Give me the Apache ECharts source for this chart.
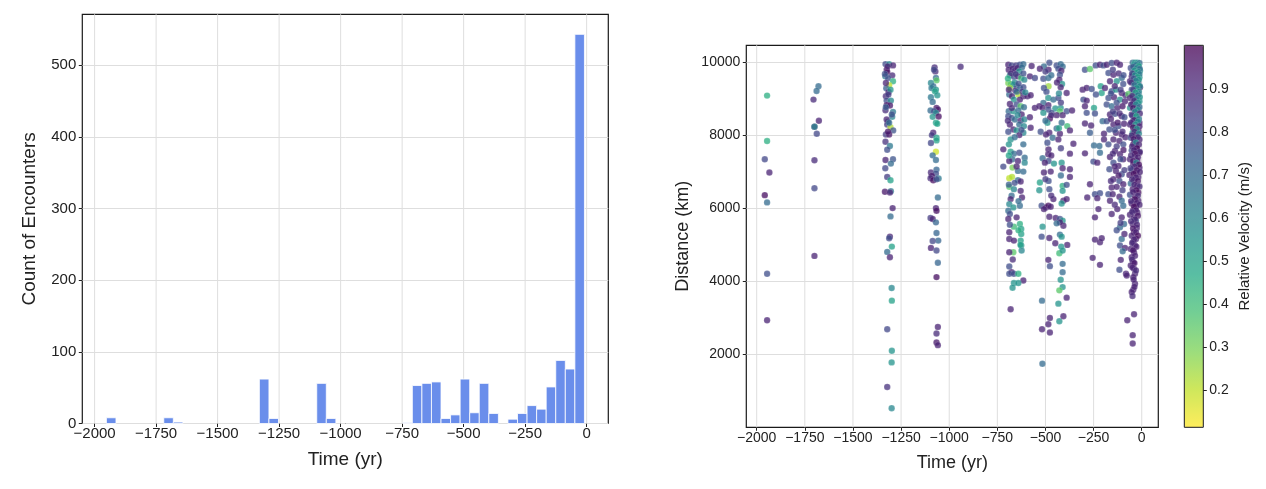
<!DOCTYPE html>
<html>
<head>
<meta charset="utf-8">
<script src="https://cdn.jsdelivr.net/npm/echarts@6/dist/echarts.min.js"></script>
<style>
html,body{margin:0;padding:0;background:#ffffff;}
#chart{width:1266px;height:489px;}
</style>
</head>
<body>
<div id="chart"></div>
<script>
// ---------- Histogram data (counts per time bin) ----------
const histStart = -1952;
const histBinWidth = 38.86;
const histCounts = [8,0,0,0,0,0,8,2,0,0,0,0,0,0,0,0,62,7,0,0,0,0,56,7,0,0,0,0,0,0,0,1,53,56,58,7,12,62,15,56,14,0,6,14,25,20,51,88,76,543];

// ---------- Tick labels ----------
const timeTicks = [-2000,-1750,-1500,-1250,-1000,-750,-500,-250,0];
const countTicks = [0,100,200,300,400,500];
const distTicks = [2000,4000,6000,8000,10000];
const velTicks = [0.2,0.3,0.4,0.5,0.6,0.7,0.8,0.9];

// ---------- Scatter data: [time (yr), distance (km), relative velocity (m/s)] ----------
const enc1950 = [[-1946,9092,0.45],[-1946,7845,0.45],[-1958,7345,0.82],[-1934,6982,0.92],[-1958,6363,0.97],[-1946,6164,0.7],[-1946,4207,0.8],[-1946,2933,0.92]];
const enc1700 = [[-1679,9346,0.7],[-1689,9219,0.7],[-1705,8982,0.9],[-1677,8400,0.92],[-1700,8237,0.95],[-1700,8237,0.6],[-1688,8046,0.82],[-1700,7318,0.9],[-1700,6554,0.82],[-1700,4698,0.92]];
const enc1300 = [[-1331,9955,0.8],[-1312,9955,0.6],[-1292,9919,0.92],[-1325,9801,0.95],[-1322,9737,0.97],[-1332,9619,0.65],[-1296,9646,0.9],[-1318,9574,0.8],[-1292,9483,0.45],[-1312,9373,0.2],[-1327,9292,0.75],[-1315,9192,0.92],[-1329,9073,0.9],[-1325,8955,0.8],[-1303,8955,0.6],[-1325,8828,0.95],[-1308,8819,0.95],[-1331,8691,0.9],[-1292,8646,0.65],[-1296,8509,0.6],[-1318,8373,0.75],[-1322,8300,0.85],[-1305,8228,0.22],[-1291,8137,0.78],[-1329,8027,0.85],[-1312,8027,0.95],[-1331,7827,0.88],[-1308,7709,0.65],[-1322,7609,0.8],[-1292,7345,0.78],[-1331,7327,0.92],[-1303,7227,0.7],[-1332,7100,0.82],[-1322,6863,0.85],[-1305,6772,0.5],[-1334,6454,0.95],[-1303,6472,0.65],[-1308,6436,0.92],[-1294,6008,0.92],[-1305,5781,0.7],[-1308,5226,0.92],[-1312,5181,0.8],[-1298,4953,0.5],[-1322,4808,0.7],[-1308,4662,0.92],[-1299,3816,0.6],[-1298,3471,0.5],[-1322,2689,0.82],[-1298,2097,0.55],[-1299,1779,0.55],[-1322,1106,0.88],[-1299,524,0.6],[-1320,9892,0.92],[-1334,9683,0.8],[-1305,9255,0.55],[-1298,8573,0.8],[-1325,8437,0.92],[-1312,8346,0.7],[-1318,8100,0.95],[-1329,9437,0.92],[-1316,9120,0.85],[-1329,8773,0.75]];
const enc1075 = [[-1076,9865,0.9],[-1072,9755,0.9],[-1079,9801,0.82],[-1069,9574,0.7],[-1066,9510,0.35],[-1095,9437,0.6],[-1083,9346,0.7],[-1092,9301,0.65],[-1069,9255,0.55],[-1074,9210,0.5],[-1062,9101,0.55],[-1095,9046,0.65],[-1086,8919,0.7],[-1066,8755,0.95],[-1059,8710,0.95],[-1097,8682,0.7],[-1079,8664,0.8],[-1069,8619,0.6],[-1086,8509,0.55],[-1055,8518,0.97],[-1069,8346,0.5],[-1062,8318,0.5],[-1083,8073,0.92],[-1090,8009,0.85],[-1066,7936,0.5],[-1066,7864,0.5],[-1095,7791,0.82],[-1069,7554,0.18],[-1086,7454,0.7],[-1069,7327,0.7],[-1066,7063,0.72],[-1095,6982,0.9],[-1069,6954,0.8],[-1090,6891,0.95],[-1097,6827,0.9],[-1083,6772,0.97],[-1055,6818,0.65],[-1066,6800,0.8],[-1059,6299,0.7],[-1069,6008,0.92],[-1066,5936,0.97],[-1097,5736,0.85],[-1086,5708,0.92],[-1069,5617,0.72],[-1066,5326,0.72],[-1057,5117,0.72],[-1086,5108,0.82],[-1095,4917,0.92],[-1066,4844,0.82],[-1059,4508,0.72],[-1066,4117,0.97],[-1059,2752,0.92],[-1066,2570,0.9],[-1066,2325,0.95],[-1059,2252,0.92],[-941,9883,0.9]];
const enc700 = [[-693,9937,0.92],[-676,9919,0.82],[-653,9919,0.85],[-633,9937,0.8],[-615,9955,0.7],[-691,9801,0.92],[-671,9828,0.92],[-660,9774,0.9],[-646,9846,0.92],[-622,9865,0.7],[-636,9755,0.55],[-685,9646,0.55],[-664,9610,0.8],[-643,9619,0.92],[-626,9574,0.4],[-610,9528,0.6],[-693,9437,0.3],[-681,9410,0.35],[-667,9392,0.5],[-650,9346,0.8],[-633,9301,0.7],[-685,9301,0.25],[-615,9319,0.8],[-657,9228,0.92],[-688,9120,0.7],[-674,9073,0.92],[-641,9120,0.22],[-615,9073,0.92],[-594,9073,0.92],[-577,9101,0.92],[-664,8982,0.55],[-633,8982,0.92],[-685,8864,0.92],[-650,8846,0.8],[-629,8800,0.35],[-612,8773,0.7],[-691,8664,0.7],[-667,8664,0.55],[-641,8682,0.7],[-624,8573,0.92],[-693,8528,0.8],[-676,8482,0.8],[-659,8437,0.7],[-629,8409,0.92],[-610,8437,0.6],[-581,8500,0.92],[-685,8300,0.92],[-636,8300,0.7],[-612,8255,0.6],[-577,8209,0.92],[-667,8164,0.92],[-650,8137,0.55],[-693,8100,0.8],[-615,8073,0.6],[-636,8009,0.92],[-681,7891,0.55],[-615,7755,0.7],[-690,7755,0.55],[-719,7618,0.92],[-681,7554,0.5],[-664,7500,0.7],[-636,7527,0.8],[-672,7345,0.7],[-688,7300,0.92],[-643,7300,0.92],[-608,7391,0.7],[-608,7254,0.6],[-719,7145,0.82],[-671,7118,0.3],[-643,7027,0.7],[-615,7009,0.7],[-688,6827,0.2],[-674,6863,0.22],[-643,6772,0.7],[-629,6736,0.92],[-688,6590,0.35],[-664,6527,0.6],[-629,6481,0.92],[-676,6345,0.7],[-622,6299,0.92],[-681,6254,0.92],[-688,6118,0.6],[-633,6072,0.7],[-667,6027,0.55],[-693,5936,0.7],[-685,5845,0.8],[-693,5708,0.92],[-650,5754,0.92],[-633,5572,0.45],[-664,5499,0.4],[-626,5435,0.5],[-626,5299,0.5],[-688,5344,0.92],[-629,5117,0.5],[-688,5162,0.92],[-664,5117,0.92],[-626,4981,0.55],[-624,4844,0.6],[-667,4799,0.35],[-688,4799,0.92],[-688,4407,0.8],[-676,4253,0.92],[-688,4207,0.8],[-664,4207,0.8],[-641,4207,0.45],[-615,4025,0.92],[-664,3953,0.55],[-641,3953,0.55],[-671,3826,0.55],[-681,3234,0.92],[-680,9700,0.9],[-655,9680,0.85],[-695,9560,0.45],[-660,9450,0.6],[-640,9420,0.8],[-690,9250,0.92],[-650,9200,0.7],[-620,9200,0.85],[-675,8750,0.9],[-645,8560,0.6],[-695,8400,0.9],[-625,8150,0.8],[-660,7950,0.7],[-690,7450,0.5],[-650,7150,0.92],[-690,6650,0.75],[-660,6700,0.8],[-640,6200,0.7],[-685,5550,0.8],[-640,5400,0.45],[-670,4600,0.9],[-630,5000,0.5],[-615,9700,0.8],[-605,9180,0.6]];
const enc500 = [[-480,9990,0.8],[-508,9892,0.7],[-529,9828,0.92],[-484,9801,0.92],[-442,9919,0.8],[-421,9955,0.7],[-411,9892,0.7],[-572,9901,0.92],[-433,9828,0.8],[-418,9774,0.92],[-425,9664,0.8],[-581,9619,0.92],[-555,9574,0.82],[-511,9555,0.8],[-485,9574,0.7],[-428,9528,0.92],[-414,9410,0.55],[-484,9346,0.25],[-508,9301,0.8],[-421,9319,0.92],[-390,9164,0.92],[-485,9028,0.55],[-459,8982,0.7],[-433,9028,0.8],[-511,8891,0.7],[-485,8828,0.92],[-555,8755,0.92],[-532,8800,0.92],[-515,8755,0.92],[-421,8755,0.55],[-485,8710,0.8],[-449,8737,0.55],[-425,8664,0.35],[-390,8664,0.8],[-362,8682,0.92],[-511,8619,0.55],[-468,8619,0.8],[-442,8555,0.92],[-411,8555,0.92],[-477,8464,0.97],[-490,8346,0.55],[-416,8346,0.7],[-387,8255,0.4],[-442,8191,0.7],[-373,8137,0.92],[-525,8100,0.8],[-480,8073,0.92],[-425,8046,0.92],[-497,8027,0.92],[-463,7936,0.7],[-433,7891,0.92],[-355,7773,0.92],[-484,7618,0.92],[-485,7482,0.92],[-373,7500,0.92],[-515,7373,0.7],[-484,7300,0.8],[-456,7227,0.55],[-416,7254,0.55],[-503,7254,0.92],[-411,7100,0.92],[-373,7072,0.92],[-508,6982,0.92],[-473,7009,0.92],[-373,6863,0.92],[-529,6709,0.5],[-484,6754,0.8],[-411,6618,0.45],[-390,6645,0.8],[-532,6499,0.55],[-480,6527,0.8],[-411,6481,0.55],[-459,6254,0.92],[-407,6208,0.92],[-416,6136,0.55],[-390,6254,0.92],[-520,6072,0.8],[-497,6027,0.92],[-485,6072,0.97],[-473,6045,0.92],[-508,5981,0.92],[-480,5772,0.92],[-447,5736,0.92],[-425,5708,0.8],[-411,5663,0.55],[-407,5526,0.92],[-425,5617,0.92],[-515,5499,0.55],[-442,5590,0.7],[-520,5226,0.8],[-480,5190,0.92],[-449,5044,0.92],[-425,5281,0.7],[-416,5226,0.55],[-387,4999,0.92],[-418,4953,0.55],[-428,4771,0.4],[-411,4844,0.55],[-485,4589,0.92],[-477,4417,0.8],[-411,4480,0.7],[-411,4253,0.7],[-421,4044,0.55],[-411,3843,0.55],[-428,3753,0.35],[-390,3553,0.92],[-518,3471,0.7],[-433,3389,0.55],[-477,2998,0.92],[-485,2825,0.92],[-428,2907,0.55],[-407,3043,0.92],[-518,2689,0.92],[-477,2598,0.92],[-516,1743,0.7],[-500,9750,0.85],[-470,9650,0.7],[-440,9450,0.92],[-495,9200,0.8],[-430,9150,0.6],[-470,8550,0.9],[-420,8900,0.85],[-500,8400,0.7],[-430,8200,0.5],[-490,7800,0.8],[-420,7650,0.85],[-470,7450,0.92],[-500,6800,0.85],[-420,6900,0.7],[-470,6350,0.9]];
const enc250 = [[-295,9801,0.8],[-269,9819,0.35],[-239,9919,0.8],[-217,9937,0.92],[-307,9255,0.92],[-286,9301,0.92],[-260,9273,0.8],[-213,9346,0.5],[-208,9164,0.5],[-238,9120,0.8],[-303,8982,0.8],[-286,8955,0.92],[-295,8800,0.92],[-248,8755,0.5],[-286,8619,0.8],[-243,8600,0.8],[-295,8327,0.92],[-263,8273,0.92],[-269,8073,0.75],[-203,8391,0.7],[-196,8046,0.92],[-196,7891,0.92],[-248,7727,0.7],[-220,7709,0.7],[-217,7527,0.7],[-295,7509,0.92],[-251,7282,0.8],[-231,7254,0.92],[-269,6663,0.92],[-283,6299,0.92],[-243,6390,0.8],[-217,6418,0.8],[-231,6281,0.92],[-243,5754,0.92],[-225,5981,0.92],[-243,5144,0.92],[-217,5072,0.92],[-208,5181,0.92],[-255,4644,0.92],[-217,4453,0.92]];
const enc120 = [[-199,9919,0.8],[-182,9937,0.92],[-156,9983,0.8],[-130,9990,0.92],[-113,9937,0.92],[-173,9710,0.8],[-147,9664,0.92],[-104,9574,0.7],[-165,9483,0.92],[-130,9483,0.55],[-96,9410,0.8],[-191,9301,0.92],[-156,9210,0.8],[-134,9255,0.55],[-104,9164,0.92],[-173,9028,0.8],[-144,9046,0.92],[-113,8982,0.55],[-87,8937,0.92],[-182,8846,0.8],[-156,8800,0.7],[-127,8755,0.92],[-165,8573,0.92],[-139,8591,0.8],[-104,8528,0.92],[-182,8391,0.8],[-147,8300,0.92],[-121,8255,0.8],[-92,8318,0.92],[-168,8164,0.8],[-134,8073,0.92],[-104,8027,0.92],[-147,7891,0.92],[-116,7845,0.92],[-173,7755,0.8],[-96,7755,0.8],[-139,7573,0.92],[-113,7482,0.92],[-165,7409,0.92],[-147,7254,0.8],[-121,7164,0.92],[-96,7345,0.92],[-168,7072,0.8],[-134,7027,0.92],[-104,6936,0.8],[-147,6800,0.92],[-116,6754,0.8],[-156,6572,0.92],[-130,6590,0.92],[-96,6663,0.92],[-173,6390,0.8],[-151,6390,0.92],[-116,6317,0.92],[-104,6208,0.7],[-165,6208,0.92],[-96,6072,0.7],[-127,5981,0.92],[-156,5845,0.92],[-104,5754,0.92],[-92,5572,0.7],[-113,5481,0.7],[-104,5162,0.7],[-113,4981,0.8],[-87,4917,0.92],[-99,4826,0.7],[-109,4589,0.92],[-116,4317,0.8],[-82,4207,0.92],[-78,4162,0.92],[-150,9800,0.85],[-120,9700,0.9],[-95,9650,0.8],[-140,9350,0.92],[-110,9250,0.85],[-160,9150,0.8],[-85,9100,0.9],[-130,8900,0.8],[-100,8800,0.95],[-150,8650,0.85],[-115,8600,0.9],[-90,8500,0.8],[-160,8450,0.92],[-125,8350,0.95],[-140,8150,0.8],[-100,8100,0.9],[-85,7950,0.92],[-130,7700,0.85],[-95,7600,0.95],[-150,7500,0.9],[-110,7350,0.8],[-140,7150,0.92],[-90,7050,0.85],[-120,6900,0.95],[-160,6750,0.9],[-100,6500,0.85],[-140,6100,0.9],[-110,5600,0.85],[-90,5300,0.92],[-130,5400,0.8]];
const enc30 = [[-47,9990,0.7],[-35,9990,0.55],[-23,9990,0.55],[-12,9983,0.7],[-40,9937,0.55],[-18,9892,0.8],[-57,9846,0.8],[-30,9801,0.55],[-9,9774,0.55],[-44,9683,0.7],[-23,9646,0.8],[-12,9592,0.55],[-52,9619,0.92],[-61,9483,0.92],[-40,9464,0.55],[-18,9437,0.92],[-30,9346,0.55],[-9,9319,0.97],[-52,9255,0.8],[-69,9137,0.35],[-40,9120,0.55],[-18,9137,0.8],[-61,9028,0.92],[-35,8982,0.97],[-12,8937,0.55],[-47,8864,0.8],[-26,8800,0.92],[-61,8755,0.55],[-18,8710,0.8],[-35,8619,0.97],[-52,8573,0.92],[-26,8482,0.55],[-44,8409,0.8],[-12,8346,0.92],[-61,8300,0.92],[-35,8209,0.55],[-18,8137,0.97],[-47,8073,0.55],[-30,8009,0.97],[-57,7936,0.8],[-12,7891,0.92],[-35,7827,0.55],[-44,7755,0.97],[-26,7664,0.92],[-52,7591,0.8],[-12,7527,0.97],[-35,7436,0.92],[-61,7345,0.92],[-23,7300,0.97],[-44,7209,0.92],[-12,7118,0.92],[-52,7045,0.8],[-30,6982,0.97],[-64,6918,0.92],[-18,6863,0.92],[-40,6772,0.97],[-57,6681,0.7],[-23,6618,0.92],[-47,6527,0.92],[-18,6436,0.97],[-61,6372,0.8],[-35,6299,0.92],[-18,6208,0.92],[-52,6136,0.92],[-30,6045,0.97],[-44,5954,0.92],[-23,5890,0.92],[-61,5826,0.92],[-40,5754,0.92],[-30,5663,0.8],[-47,5572,0.92],[-26,5463,0.92],[-40,5344,0.97],[-52,5253,0.92],[-30,5162,0.92],[-44,5072,0.92],[-35,4981,0.92],[-57,4890,0.92],[-40,4799,0.92],[-52,4662,0.92],[-44,4526,0.92],[-57,4435,0.92],[-40,4344,0.92],[-35,4207,0.92],[-44,4117,0.92],[-35,3935,0.92],[-44,3771,0.92],[-52,3707,0.92],[-40,3098,0.92],[-75,2934,0.92],[-47,2525,0.92],[-47,2298,0.92],
[-20,9950,0.6],[-30,9930,0.65],[-15,9900,0.5],[-45,9880,0.75],[-25,9850,0.6],[-10,9820,0.7],[-38,9780,0.55],[-18,9750,0.6],[-28,9720,0.5],[-50,9700,0.85],[-12,9680,0.65],[-35,9650,0.6],[-22,9600,0.5],[-42,9560,0.8],[-15,9530,0.55],[-30,9500,0.62],[-55,9450,0.9],[-20,9400,0.5],[-38,9380,0.7],[-10,9350,0.6],[-25,9300,0.55],[-45,9250,0.85],[-15,9200,0.6],[-32,9180,0.5],[-20,9100,0.65],[-50,9080,0.9],[-10,9050,0.55],[-28,9000,0.6],
[-40,8950,0.9],[-18,8900,0.55],[-55,8850,0.92],[-30,8850,0.6],[-12,8780,0.7],[-45,8750,0.95],[-22,8700,0.55],[-35,8650,0.6],[-10,8600,0.9],[-50,8550,0.85],[-28,8530,0.5],[-15,8450,0.65],[-40,8420,0.95],[-20,8380,0.6],[-55,8350,0.9],[-32,8300,0.55],[-12,8250,0.92],[-45,8220,0.97],[-25,8180,0.55],[-38,8100,0.92],[-15,8050,0.6],[-52,8000,0.9],
[-20,7950,0.9],[-42,7900,0.95],[-30,7800,0.6],[-15,7750,0.92],[-50,7700,0.9],[-25,7650,0.97],[-40,7600,0.92],[-10,7550,0.9],[-35,7500,0.97],[-55,7450,0.9],[-20,7400,0.92],[-45,7300,0.95],[-28,7250,0.6],[-15,7200,0.97],[-38,7150,0.92],[-58,7100,0.85],[-25,7050,0.95],[-10,7000,0.92],[-42,6950,0.97],[-30,6850,0.92],[-50,6800,0.9],[-20,6750,0.95],[-38,6650,0.92],[-12,6600,0.9],[-28,6500,0.97],[-45,6450,0.92],[-20,6350,0.9],[-35,6250,0.97],[-55,6200,0.9],[-25,6150,0.92],[-12,6100,0.92],[-40,6050,0.97],
[-30,5950,0.92],[-50,5900,0.9],[-20,5800,0.95],[-35,5700,0.92],[-55,5650,0.9],[-25,5550,0.92],[-45,5450,0.95],[-30,5350,0.92],[-20,5250,0.97],[-40,5150,0.92],[-50,5050,0.9],[-28,4950,0.92],[-45,4850,0.95],[-35,4700,0.92],[-50,4600,0.9],[-38,4500,0.95],[-48,4380,0.92],[-30,4300,0.9],[-42,4050,0.92],[-38,3850,0.92],[-48,3600,0.9]];

// ---------- Colormap (viridis reversed) ----------
const viridisR = ['#fde725','#bddf26','#7ad151','#44bf70','#22a884','#21918c','#2a788e','#355f8d','#414487','#482475','#440154'];
const viridisRFaded = ['#FEED5C','#CEE75C','#9BDD7D','#73CF94','#59BEA3','#58ADA9','#5F9AAA','#6787AA','#7173A5','#765B98','#73407F'];

// ---------- Build options ----------
const histData = histCounts.map((c, i) => [histStart + i * histBinWidth, histStart + (i + 1) * histBinWidth, c]).filter(d => d[2] > 0);
const scatterData = [].concat(enc1950, enc1700, enc1300, enc1075, enc700, enc500, enc250, enc120, enc30);

const FONT = "'Liberation Sans', Arial, sans-serif";
const TXT = '#222';
const GRIDC = '#dedede';
const minusFmt = v => String(v).replace('-', '\u2212');

// vertical grid lines drawn through the axis scale
function vLineRenderer(params, api) {
  const x = api.value(0);
  const cs = params.coordSys;
  const p = api.coord([x, 0]);
  return { type: 'line', shape: { x1: p[0], y1: cs.y, x2: p[0], y2: cs.y + cs.height },
           style: { stroke: GRIDC, lineWidth: 1 }, silent: true };
}

const chart = echarts.init(document.getElementById('chart'), null, { renderer: 'canvas' });
chart.setOption({
  animation: false,
  backgroundColor: '#ffffff',
  textStyle: { fontFamily: FONT },
  grid: [
    { left: 82.3, top: 14.3, width: 526, height: 409.2, show: true, borderColor: '#1a1a1a', borderWidth: 1.2, backgroundColor: 'transparent' },
    { left: 746.3, top: 45.3, width: 412, height: 382, show: true, borderColor: '#1a1a1a', borderWidth: 1.2, backgroundColor: 'transparent' },
    { left: 1184.3, top: 45.3, width: 19, height: 382, show: true, borderColor: '#1a1a1a', borderWidth: 1, backgroundColor: 'transparent', z: 10 }
  ],
  xAxis: [
    { gridIndex: 0, type: 'value', min: -2050, max: 88,
      axisLine: { show: false, onZero: false }, splitLine: { show: false },
      axisTick: { show: true, length: 3.5, customValues: timeTicks, lineStyle: { color: TXT } },
      axisLabel: { customValues: timeTicks, formatter: minusFmt, color: TXT, fontSize: 15, margin: 3, fontFamily: FONT },
      name: 'Time (yr)', nameLocation: 'middle', nameGap: 27, nameTextStyle: { color: TXT, fontSize: 19, fontFamily: FONT } },
    { gridIndex: 1, type: 'value', min: -2054, max: 86,
      axisLine: { show: false, onZero: false }, splitLine: { show: false },
      axisTick: { show: true, length: 3.5, customValues: timeTicks, lineStyle: { color: TXT } },
      axisLabel: { customValues: timeTicks, formatter: minusFmt, color: TXT, fontSize: 14, margin: 4, fontFamily: FONT },
      name: 'Time (yr)', nameLocation: 'middle', nameGap: 27, nameTextStyle: { color: TXT, fontSize: 18, fontFamily: FONT } },
    { gridIndex: 2, type: 'value', min: 0, max: 1, show: false }
  ],
  yAxis: [
    { gridIndex: 0, type: 'value', min: 0, max: 571, interval: 100,
      axisLine: { show: false, onZero: false },
      splitLine: { show: true, lineStyle: { color: GRIDC, width: 1 } },
      axisTick: { show: true, length: 3.5, customValues: countTicks, lineStyle: { color: TXT } },
      axisLabel: { customValues: countTicks, formatter: v => String(v), color: TXT, fontSize: 15, margin: 6, fontFamily: FONT },
      name: 'Count of Encounters', nameLocation: 'middle', nameRotate: 90, nameGap: 43, nameTextStyle: { color: TXT, fontSize: 19, fontFamily: FONT } },
    { gridIndex: 1, type: 'value', min: 0, max: 10470, interval: 2000,
      axisLine: { show: false, onZero: false },
      splitLine: { show: true, lineStyle: { color: GRIDC, width: 1 } },
      axisTick: { show: true, length: 3.5, customValues: distTicks, lineStyle: { color: TXT } },
      axisLabel: { customValues: distTicks, formatter: v => String(v), color: TXT, fontSize: 14, margin: 6, fontFamily: FONT },
      name: 'Distance (km)', nameLocation: 'middle', nameRotate: 90, nameGap: 54, nameTextStyle: { color: TXT, fontSize: 18, fontFamily: FONT } },
    { gridIndex: 2, type: 'value', min: 0.113, max: 1.003, position: 'right',
      axisLine: { show: false, onZero: false }, splitLine: { show: false },
      axisTick: { show: true, length: 3.5, customValues: velTicks, lineStyle: { color: TXT } },
      axisLabel: { customValues: velTicks, formatter: v => v.toFixed(1), color: TXT, fontSize: 14, margin: 6, fontFamily: FONT },
      name: 'Relative Velocity (m/s)', nameLocation: 'middle', nameRotate: 90, nameGap: 34, nameTextStyle: { color: TXT, fontSize: 15, fontFamily: FONT } }
  ],
  visualMap: [{
    type: 'continuous', seriesIndex: 3, dimension: 2,
    min: 0.113, max: 1.003, calculable: false, hoverLink: false,
    left: 1184.3, top: 45.3, itemWidth: 19, itemHeight: 382, padding: 0,
    orient: 'vertical', text: null, showLabel: false, z: 4,
    inRange: { color: viridisR },
    controller: { inRange: { color: viridisRFaded } }
  }],
  series: [
    { type: 'custom', xAxisIndex: 0, yAxisIndex: 0, data: timeTicks.map(t => [t]), encode: { x: 0 }, z: 1, silent: true,
      renderItem: vLineRenderer },
    { type: 'custom', xAxisIndex: 0, yAxisIndex: 0, data: histData, encode: { x: [0, 1], y: 2 }, z: 3,
      renderItem: function (params, api) {
        const p0 = api.coord([api.value(0), api.value(2)]);
        const p1 = api.coord([api.value(1), 0]);
        return { type: 'rect', shape: { x: p0[0], y: p0[1], width: p1[0] - p0[0], height: p1[1] - p0[1] },
                 style: { fill: '#6A8EEB', stroke: '#ffffff', lineWidth: 0.8 } };
      }
    },
    { type: 'custom', xAxisIndex: 1, yAxisIndex: 1, data: timeTicks.map(t => [t]), encode: { x: 0 }, z: 1, silent: true,
      renderItem: vLineRenderer },
    { type: 'scatter', xAxisIndex: 1, yAxisIndex: 1, data: scatterData, symbolSize: 6.4, z: 3,
      itemStyle: { opacity: 0.75, borderColor: 'rgba(255,255,255,0.5)', borderWidth: 0.4 }
    }
  ]
});
</script>
</body>
</html>
